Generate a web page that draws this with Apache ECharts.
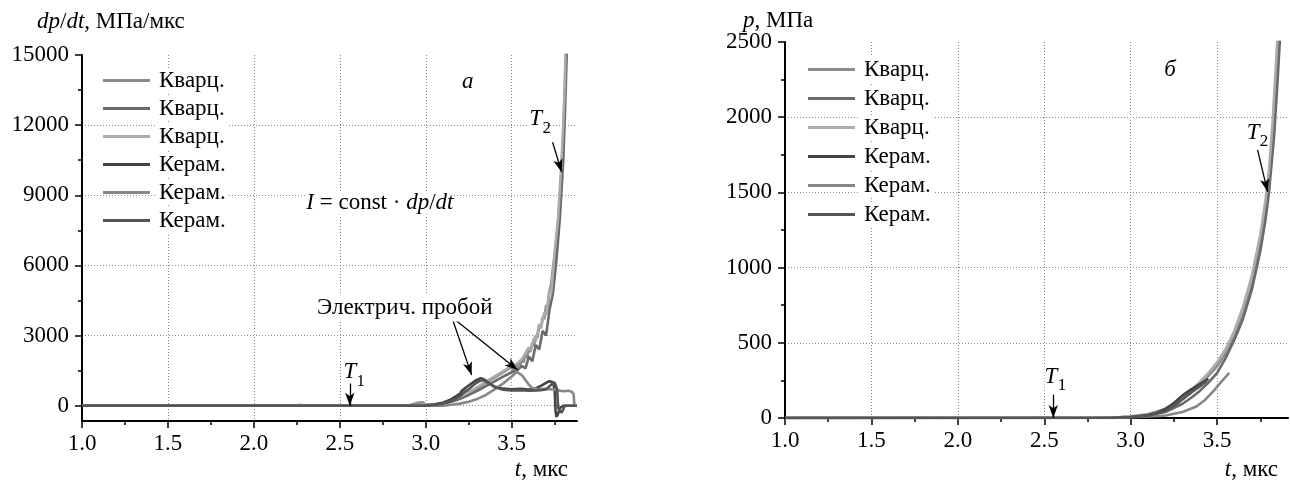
<!DOCTYPE html>
<html><head><meta charset="utf-8">
<script src="https://cdn.jsdelivr.net/npm/echarts@6/dist/echarts.min.js"></script>
<style>html,body{margin:0;padding:0;background:#fff}#c{width:1290px;height:486px}</style>
</head><body><div id="c"></div>
<script>
const FONT = 'Liberation Serif';

// legend labels and colours (same order in both panels)
const seriesLabels = ['Кварц.', 'Кварц.', 'Кварц.', 'Керам.', 'Керам.', 'Керам.'];
const seriesColors = ['#8c8c8c', '#6a6a6a', '#ababab', '#444444', '#878787', '#555555'];

// tick values
const timeTicks = [1.0, 1.5, 2.0, 2.5, 3.0, 3.5];
const rateTicks = [0, 3000, 6000, 9000, 12000, 15000];
const pressureTicks = [0, 500, 1000, 1500, 2000, 2500];

// panel a: dp/dt, MPa/us  — pairs [t (us), value]
const rateQuartz1 = [[1.0,0],[2.25,0],[2.27,40],[2.29,0],[2.9,10],[2.95,120],[2.98,150],[3.0,60],[3.05,50],[3.1,110],[3.15,220],[3.2,350],[3.25,540],[3.3,760],[3.35,980],[3.4,1200],[3.45,1420],[3.48,1560],[3.5,1650],[3.51,1500],[3.52,1750],[3.53,1600],[3.54,1850],[3.55,1700],[3.56,2000],[3.57,1850],[3.58,2200],[3.59,2050],[3.6,2450],[3.61,2300],[3.62,2700],[3.63,2550],[3.64,3000],[3.65,2900],[3.66,3400],[3.67,3300],[3.68,3800],[3.69,3700],[3.7,4300],[3.71,4200],[3.72,4900],[3.73,5200],[3.74,5900],[3.75,6400],[3.76,7100],[3.77,7900],[3.78,8900],[3.79,10100],[3.8,11600],[3.81,13800],[3.82,16000]];
const rateQuartz2 = [[1.0,0],[2.9,0],[3.0,40],[3.05,30],[3.1,80],[3.15,170],[3.2,300],[3.25,460],[3.3,640],[3.35,840],[3.4,1040],[3.45,1240],[3.5,1430],[3.53,1500],[3.56,1700],[3.58,1600],[3.6,2100],[3.62,1900],[3.64,2600],[3.66,2400],[3.68,3200],[3.7,3000],[3.72,4100],[3.74,4800],[3.76,6200],[3.78,8000],[3.8,10500],[3.81,12500],[3.82,15000],[3.83,16500]];
const rateQuartz3 = [[1.0,0],[2.9,0],[3.0,60],[3.05,60],[3.1,130],[3.15,240],[3.2,380],[3.25,570],[3.3,800],[3.35,1030],[3.4,1260],[3.45,1480],[3.5,1700],[3.53,1800],[3.56,2000],[3.6,2500],[3.61,2350],[3.63,2900],[3.64,2750],[3.66,3500],[3.67,3300],[3.69,4000],[3.7,3850],[3.72,5000],[3.73,4800],[3.75,6600],[3.77,8000],[3.79,10500],[3.8,12000],[3.81,14000],[3.815,16000]];
const rateCeram1 = [[1.0,0],[2.95,0],[3.0,20],[3.05,50],[3.1,130],[3.15,280],[3.2,520],[3.21,640],[3.22,600],[3.23,760],[3.24,720],[3.26,920],[3.27,880],[3.29,1080],[3.3,1040],[3.32,1180],[3.34,1120],[3.37,950],[3.4,820],[3.45,730],[3.5,700],[3.55,720],[3.6,690],[3.64,740],[3.67,850],[3.7,980],[3.72,1050],[3.74,1000],[3.75,700],[3.755,-200],[3.76,-480],[3.77,-350],[3.78,-100],[3.79,-150],[3.8,0],[3.88,0]];
const rateCeram2 = [[1.0,0],[3.1,0],[3.15,40],[3.2,90],[3.25,170],[3.3,290],[3.35,460],[3.4,700],[3.45,950],[3.5,1250],[3.53,1450],[3.56,1300],[3.6,900],[3.62,760],[3.65,700],[3.7,720],[3.75,680],[3.8,620],[3.83,640],[3.85,600],[3.86,500],[3.865,0],[3.88,0]];
const rateCeram3 = [[1.0,0],[3.0,0],[3.05,30],[3.1,90],[3.15,200],[3.2,400],[3.22,560],[3.23,520],[3.25,700],[3.26,660],[3.28,900],[3.31,1050],[3.33,1100],[3.36,1000],[3.4,800],[3.45,680],[3.5,650],[3.55,660],[3.6,640],[3.65,650],[3.7,700],[3.73,900],[3.75,1000],[3.765,700],[3.77,-100],[3.78,-50],[3.79,-300],[3.8,-250],[3.81,0],[3.88,0]];

// panel б: p, MPa — pairs [t (us), value]
const pressQuartz1 = [[1.0,0],[2.5,0],[2.8,2],[2.95,6],[3.0,10],[3.1,22],[3.2,55],[3.25,85],[3.3,125],[3.35,170],[3.4,220],[3.45,280],[3.5,345],[3.55,430],[3.6,540],[3.65,690],[3.7,880],[3.75,1150],[3.78,1380],[3.8,1580],[3.82,1850],[3.84,2200],[3.86,2650]];
const pressQuartz2 = [[1.0,0],[2.9,2],[3.0,8],[3.1,18],[3.2,40],[3.3,95],[3.35,135],[3.4,180],[3.45,235],[3.5,300],[3.55,400],[3.6,520],[3.65,660],[3.7,850],[3.75,1110],[3.78,1320],[3.8,1500],[3.83,1880],[3.85,2250],[3.87,2650]];
const pressQuartz3 = [[1.0,0],[2.9,3],[3.0,12],[3.1,26],[3.2,62],[3.25,95],[3.3,138],[3.35,185],[3.4,240],[3.45,300],[3.5,370],[3.55,460],[3.6,580],[3.65,740],[3.7,940],[3.75,1220],[3.78,1450],[3.8,1650],[3.82,1950],[3.84,2350],[3.855,2650]];
const pressCeram1 = [[1.0,0],[2.9,2],[3.0,7],[3.1,20],[3.15,35],[3.2,60],[3.25,100],[3.3,150],[3.35,190],[3.4,225],[3.45,260]];
const pressCeram2 = [[1.0,0],[2.9,1],[3.0,5],[3.1,10],[3.2,16],[3.3,40],[3.38,77],[3.43,120],[3.48,180],[3.52,235],[3.57,300]];
const pressCeram3 = [[1.0,0],[2.9,2],[3.0,6],[3.1,15],[3.2,45],[3.25,80],[3.3,125],[3.35,170],[3.4,210],[3.44,245]];

const rateSets = [rateQuartz1, rateQuartz2, rateQuartz3, rateCeram1, rateCeram2, rateCeram3];
const pressSets = [pressQuartz1, pressQuartz2, pressQuartz3, pressCeram1, pressCeram2, pressCeram3];

// annotation anchors in data coordinates
const rateNotes = {
  panel: [3.245, 13840], formula: [2.733, 8670], breakdown: [2.878, 4175],
  t1Label: [2.558, 1440], t1From: [2.558, 980], t1To: [2.558, 0],
  t2Label: [3.64, 12260], t2From: [3.738, 11270], t2To: [3.791, 9990],
  bdFrom: [3.151, 3794], bdTo1: [3.267, 1313], bdTo2: [3.535, 1527]
};
const pressNotes = {
  panel: [3.228, 2314],
  t1Label: [2.539, 275], t1From: [2.552, 155], t1To: [2.552, 0],
  t2Label: [3.708, 1896], t2From: [3.734, 1783], t2To: [3.792, 1504]
};

const chart = echarts.init(document.getElementById('c'), null, {renderer: 'canvas'});

const BLACK = '#000';
const splitStyle = {color: '#8a8a8a', type: [1, 2], width: 1};

function xAxisFor(gi, max) {
  return {
    type: 'value', gridIndex: gi, min: 1, max: max,
    axisLine: {show: true, onZero: false, lineStyle: {color: BLACK, width: 2}},
    axisTick: {show: true, inside: false, length: 7, customValues: timeTicks, lineStyle: {color: BLACK, width: 1.5}},
    minorTick: {show: true, splitNumber: 2, length: 4, lineStyle: {color: BLACK, width: 1.5}},
    axisLabel: {customValues: timeTicks, formatter: v => v.toFixed(1), color: BLACK, fontFamily: FONT, fontSize: 23, margin: 11},
    splitLine: {show: true, showMinLine: false, showMaxLine: true, lineStyle: splitStyle},
    minorSplitLine: {show: false}
  };
}
function yAxisFor(gi, min, max, ticks, interval) {
  const ax = {
    type: 'value', gridIndex: gi, min: min, max: max,
    axisLine: {show: true, onZero: false, lineStyle: {color: BLACK, width: 2}},
    axisTick: {show: true, inside: false, length: 7, customValues: ticks, lineStyle: {color: BLACK, width: 1.5}},
    minorTick: {show: true, splitNumber: 2, length: 4, lineStyle: {color: BLACK, width: 1.5}},
    axisLabel: {customValues: ticks, formatter: v => String(Math.round(v)), color: BLACK, fontFamily: FONT, fontSize: 23, margin: 13},
    splitLine: {show: true, showMinLine: true, showMaxLine: false, lineStyle: splitStyle}
  };
  if (interval) ax.interval = interval;
  return ax;
}

function note(coord, text, opts) {
  return {
    coord: coord, symbol: 'circle', symbolSize: 0,
    itemStyle: {color: 'transparent'},
    label: Object.assign({show: true, position: 'inside', formatter: text, color: BLACK,
      fontFamily: FONT, fontSize: 23}, opts || {})
  };
}
const italic = {fontStyle: 'italic', fontFamily: FONT, fontSize: 23, color: BLACK};
const roman = {fontFamily: FONT, fontSize: 23, color: BLACK};
function tLabel(coord, sub) {
  return [
    note(coord, 'T', {fontStyle: 'italic', backgroundColor: '#fff'}),
    note(coord, sub, {fontSize: 17, offset: [11, 9]})
  ];
}
function arrow(from, to) {
  return [{coord: from, symbol: 'none'}, {coord: to, symbol: 'arrow', symbolSize: [7, 13]}];
}

const names = seriesLabels.map((s, i) => s + '#' + (i + 1));
const series = [];
rateSets.forEach((d, i) => series.push({
  name: names[i], type: 'line', xAxisIndex: 0, yAxisIndex: 0, data: d,
  showSymbol: false, symbol: 'none', lineStyle: {width: 2.6, color: seriesColors[i]},
  itemStyle: {color: seriesColors[i]}, emphasis: {disabled: true}, z: 3
}));
pressSets.forEach((d, i) => series.push({
  name: names[i], type: 'line', xAxisIndex: 1, yAxisIndex: 1, data: d,
  showSymbol: false, symbol: 'none', lineStyle: {width: 2.6, color: seriesColors[i]},
  itemStyle: {color: seriesColors[i]}, emphasis: {disabled: true}, z: 3
}));

const markLineBase = {
  silent: true, symbol: ['none', 'arrow'], label: {show: false},
  lineStyle: {color: BLACK, width: 1.3, type: 'solid'}, emphasis: {disabled: true}, animation: false
};
series[0].markLine = Object.assign({}, markLineBase, {data: [
  arrow(rateNotes.t1From, rateNotes.t1To), arrow(rateNotes.t2From, rateNotes.t2To),
  arrow(rateNotes.bdFrom, rateNotes.bdTo1), arrow(rateNotes.bdFrom, rateNotes.bdTo2)
]});
series[0].markPoint = {silent: true, animation: false, data: [
  note(rateNotes.panel, 'а', {fontStyle: 'italic'}),
  note(rateNotes.formula, '{i|I} {r|= const ·} {i|dp}{r|/}{i|dt}', {backgroundColor: '#fff', rich: {i: italic, r: roman}}),
  note(rateNotes.breakdown, 'Электрич. пробой', {backgroundColor: '#fff', padding: [2, 2, 2, 2]}),
  ...tLabel(rateNotes.t1Label, '1'),
  ...tLabel(rateNotes.t2Label, '2')
]};
series[6].markLine = Object.assign({}, markLineBase, {data: [
  arrow(pressNotes.t1From, pressNotes.t1To), arrow(pressNotes.t2From, pressNotes.t2To)
]});
series[6].markPoint = {silent: true, animation: false, data: [
  note(pressNotes.panel, 'б', {fontStyle: 'italic'}),
  ...tLabel(pressNotes.t1Label, '1'),
  ...tLabel(pressNotes.t2Label, '2')
]};

function legendFor(left, top, gap) {
  return {
    data: names, left: left, top: top, orient: 'vertical', padding: 0, itemGap: gap,
    itemWidth: 47, itemHeight: 3, icon: 'rect', selectedMode: false,
    formatter: n => n.split('#')[0],
    textStyle: {fontFamily: FONT, fontSize: 23, lineHeight: 23, color: BLACK, backgroundColor: '#fff', padding: [1, 3, 1, 4]}
  };
}

const option = {
  animation: false,
  backgroundColor: '#fff',
  textStyle: {fontFamily: FONT},
  grid: [
    {left: 82, top: 55, width: 495, height: 366, containLabel: false},
    {left: 785, top: 42, width: 503, height: 376, containLabel: false}
  ],
  xAxis: [xAxisFor(0, 3.88), xAxisFor(1, 3.91)],
  yAxis: [yAxisFor(0, -654, 15000, rateTicks, null), yAxisFor(1, 0, 2500, pressureTicks, 500)],
  legend: [legendFor(103, 68, 3), legendFor(808, 57, 4)],
  series: series,
  graphic: [
    {type: 'text', x: 37, y: 22, style: {text: '{i|dp}{r|/}{i|dt}{r|, МПа/мкс}', rich: {i: italic, r: roman}, font: '23px Liberation Serif', fill: BLACK, align: 'left', verticalAlign: 'middle'}},
    {type: 'text', x: 743, y: 21, style: {text: '{i|p}{r|, МПа}', rich: {i: italic, r: roman}, font: '23px Liberation Serif', fill: BLACK, align: 'left', verticalAlign: 'middle'}},
    {type: 'text', x: 568, y: 470, style: {text: '{i|t}{r|, мкс}', rich: {i: italic, r: roman}, font: '23px Liberation Serif', fill: BLACK, align: 'right', verticalAlign: 'middle'}},
    {type: 'text', x: 1278, y: 470, style: {text: '{i|t}{r|, мкс}', rich: {i: italic, r: roman}, font: '23px Liberation Serif', fill: BLACK, align: 'right', verticalAlign: 'middle'}}
  ]
};
chart.setOption(option);
</script></body></html>
